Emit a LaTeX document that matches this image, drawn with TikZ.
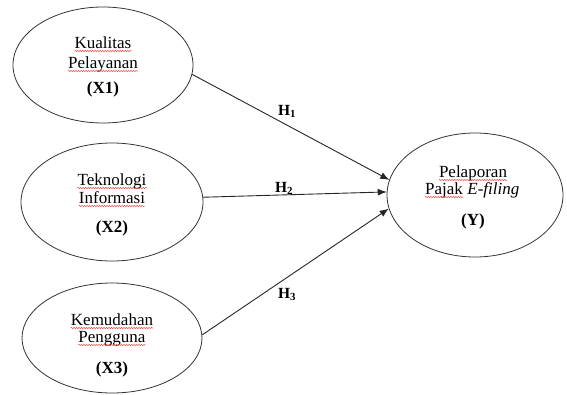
\documentclass[tikz,border=0pt]{standalone}
\usepackage{fontspec}
\setmainfont{Liberation Serif}
\usetikzlibrary{arrows.meta,decorations.pathmorphing,shapes.geometric}
\begin{document}
\begin{tikzpicture}[x=1pt,y=-1pt,
 var/.style={ellipse,draw=black!80,line width=0.8pt,inner sep=0pt},
 txt/.style={font=\fontsize{17}{20}\selectfont,inner sep=0pt,anchor=base},
 lbl/.style={font=\fontsize{15.5}{18}\selectfont\bfseries,inner sep=0pt,anchor=base},
 arr/.style={draw=black!85,line width=0.9pt,-{Latex[length=9pt,width=7pt]}},
 spell/.style={draw=red!70,line width=0.5pt,decorate,decoration={snake,amplitude=0.7pt,segment length=2.5pt}}]
\useasboundingbox (0,0) rectangle (567,394);
% ellipses
\node[var,minimum width=180pt,minimum height=116pt] (e1) at (103,65) {};
\node[var,minimum width=182pt,minimum height=118pt] (e2) at (112,202) {};
\node[var,minimum width=180pt,minimum height=110pt] (e3) at (112,338) {};
\node[var,minimum width=176pt,minimum height=124pt] (y) at (475,195) {};
% texts
\node[txt] (t1a) at (103,48) {Kualitas};
\node[txt] (t1b) at (103,68) {Pelayanan};
\node[txt] (t1c) at (103,93) {\textbf{(X1)}};
\node[txt] (t2a) at (112,185) {Teknologi};
\node[txt] (t2b) at (112,203) {Informasi};
\node[txt] (t2c) at (112,232) {\textbf{(X2)}};
\node[txt] (t3a) at (112,325) {Kemudahan};
\node[txt] (t3b) at (112,342) {Pengguna};
\node[txt] (t3c) at (112,373) {\textbf{(X3)}};
\node[txt] (ya) at (473,177) {Pelaporan};
\node[txt,anchor=base west] (yb) at (425,194) {Pajak};
\node[txt,anchor=base west] (yc) at ([xshift=4pt]yb.base east) {\textit{E-filing}};
\node[txt] (yd) at (473,225) {\textbf{(Y)}};
% spell-check underlines
\foreach \n in {t1a,t1b,t2a,t2b,t3a,t3b,ya,yb}
  \draw[spell] ([yshift=-3pt]\n.base west) -- ([yshift=-3pt]\n.base east);
% arrows
\draw[arr] (e1.-6) -- (y.170.5);
\draw[arr] (e2.3) -- (y.178.7);
\draw[arr] (e3.2) -- (y.189.5);
% labels
\node[lbl] (h1) at (287,115) {H\textsubscript{1}};
\node[lbl] (h2) at (284,192) {H\textsubscript{2}};
\node[lbl] (h3) at (287,298) {H\textsubscript{3}};
\end{tikzpicture}
\end{document}
